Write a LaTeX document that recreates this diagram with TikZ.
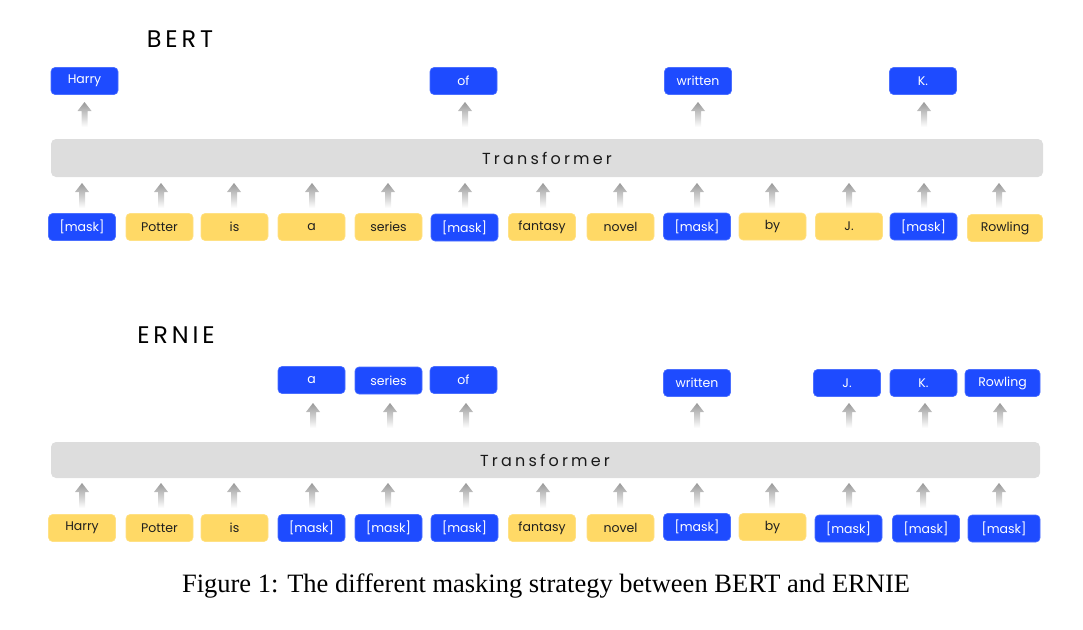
\documentclass[tikz,border=0pt]{standalone}
\usepackage{fontspec}
\setmainfont{Poppins}
\newfontfamily\capfont{Liberation Serif}
\newfontfamily\spacedfont[LetterSpace=20]{Poppins}
\newfontfamily\titlefont[LetterSpace=16]{Poppins}
\definecolor{tokblue}{RGB}{30,75,255}
\definecolor{tokyellow}{RGB}{255,217,102}
\definecolor{bargray}{RGB}{221,221,221}
\tikzset{
  tok/.style={minimum width=67pt, minimum height=27pt, rounded corners=4pt, inner sep=0pt,
    font=\fontsize{12.5}{15}\selectfont},
  bl/.style={tok, fill=tokblue, draw=tokblue!80!white, line width=0.6pt, text=white},
  ye/.style={tok, fill=tokyellow, draw=tokyellow!80!white, line width=0.6pt, text=black!88},
  barstyle/.style={fill=bargray, rounded corners=5pt},
  bartext/.style={font=\spacedfont\fontsize{16}{18}\selectfont, text=black!90},
  titlestyle/.style={font=\titlefont\fontsize{24}{28}\selectfont, anchor=base},
  uarr/.pic={\shade[top color=black!40, bottom color=white]
     (-3,0) -- (-3,-16) -- (-7,-16) -- (0,-25) -- (7,-16) -- (3,-16) -- (3,0) -- cycle;}
}
\begin{document}
\begin{tikzpicture}[x=1pt,y=-1pt]
\useasboundingbox (0,0) rectangle (1083,629);

% ---------------- BERT ----------------
\node[titlestyle] (berttitle) at (180,47) {BERT};

\node[bl] (bt1) at (84.5,81) {Harry};
\node[bl] (bt6) at (463.5,81) {of};
\node[bl] (bt9) at (698,81) {written};
\node[bl] (bt12) at (923,81) {K.};

\foreach \x/\n in {84.5/1,465/6,698/9,924/12}
  \pic (bua\n) at (\x,127) {uarr};

\fill[barstyle] (51,139) rectangle (1043,177);
\node[bartext] (bbar) at (547,158.5) {Transformer};

\foreach \x/\n in {82/1,161/2,234/3,312/4,388/5,465/6,543/7,620/8,697/9,772/10,849/11,924/12,999/13}
  \pic (bla\n) at (\x,208) {uarr};

\node[bl] (b1) at (82,227) {[mask]};
\node[ye] (b2) at (159.5,227) {Potter};
\node[ye] (b3) at (234.5,227) {is};
\node[ye] (b4) at (311.5,227) {a};
\node[ye] (b5) at (388.5,227) {series};
\node[bl] (b6) at (464.5,227.5) {[mask]};
\node[ye] (b7) at (542,227) {fantasy};
\node[ye] (b8) at (620.5,227) {novel};
\node[bl] (b9) at (697,226.5) {[mask]};
\node[ye] (b10) at (772.5,226.5) {by};
\node[ye] (b11) at (849,226.5) {J.};
\node[bl] (b12) at (923.5,226.5) {[mask]};
\node[ye, minimum width=75pt] (b13) at (1005,228) {Rowling};

% ---------------- ERNIE ----------------
\node[titlestyle] (ernietitle) at (176,343) {ERNIE};

\node[bl] (et4) at (311.5,380) {a};
\node[bl] (et5) at (388.5,380.5) {series};
\node[bl] (et6) at (463.5,380) {of};
\node[bl] (et9) at (697,383) {written};
\node[bl] (et11) at (847,383) {J.};
\node[bl] (et12) at (923.5,383) {K.};
\node[bl, minimum width=75pt] (et13) at (1002.5,383) {Rowling};

\foreach \x/\n in {313/4,390/5,466/6,697/9,849/11,925/12,1000/13}
  \pic (eua\n) at (\x,428) {uarr};

\fill[barstyle] (51,442) rectangle (1040,478);
\node[bartext] (ebar) at (545,460.5) {Transformer};

\foreach \x/\n in {82/1,161/2,234/3,312/4,388/5,466/6,543/7,620/8,697/9,772/10,849/11,923/12,999/13}
  \pic (ela\n) at (\x,508) {uarr};

\node[ye] (e1) at (82,528) {Harry};
\node[ye] (e2) at (159.5,528) {Potter};
\node[ye] (e3) at (234.5,528) {is};
\node[bl] (e4) at (311.5,528) {[mask]};
\node[bl] (e5) at (388.5,528) {[mask]};
\node[bl] (e6) at (464.5,528) {[mask]};
\node[ye] (e7) at (542,528) {fantasy};
\node[ye] (e8) at (620.5,528) {novel};
\node[bl] (e9) at (697,527) {[mask]};
\node[ye] (e10) at (772.5,527) {by};
\node[bl] (e11) at (848.5,528.5) {[mask]};
\node[bl] (e12) at (926,528.5) {[mask]};
\node[bl, minimum width=72pt] (e13) at (1004,528.5) {[mask]};

% ---------------- caption ----------------
\node[font=\capfont\fontsize{26.5}{30}\selectfont, anchor=base] (caption) at (546,592)
  {Figure 1: The different masking strategy between BERT and ERNIE};
\end{tikzpicture}
\end{document}
